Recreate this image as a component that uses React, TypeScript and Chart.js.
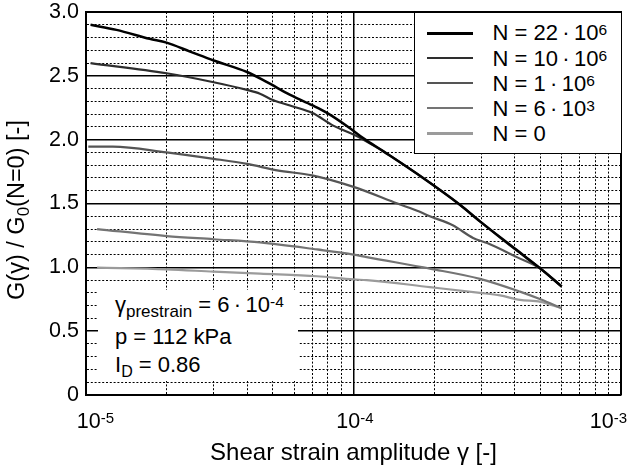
import React, { useEffect, useRef } from 'react';
import { Chart, registerables } from 'chart.js';

Chart.register(...registerables);

// ---------- data ----------
const N22M_X = [1.04e-5, 1.3e-5, 1.73e-5, 2e-5, 2.45e-5, 3e-5, 4e-5, 4.75e-5, 5.8e-5, 7e-5, 7.96e-5, 9.7e-5, 1.09e-4, 1.29e-4, 1.82e-4, 2.5e-4, 2.97e-4, 4.08e-4, 5e-4, 6e-4];
const N22M_Y = [2.90, 2.86, 2.79, 2.76, 2.69, 2.62, 2.53, 2.45, 2.35, 2.27, 2.21, 2.09, 2.01, 1.91, 1.70, 1.49, 1.36, 1.135, 0.99, 0.85];

const N10M_X = [1.04e-5, 2e-5, 3e-5, 4e-5, 4.47e-5, 5e-5, 5.94e-5, 7e-5, 8.4e-5, 1e-4, 1.09e-4, 1.29e-4, 1.82e-4, 2.5e-4, 2.97e-4, 4.08e-4, 5e-4, 6e-4];
const N10M_Y = [2.60, 2.52, 2.45, 2.39, 2.36, 2.31, 2.26, 2.21, 2.11, 2.04, 2.00, 1.91, 1.70, 1.49, 1.36, 1.13, 0.99, 0.85];

const N1M_X = [1.02e-5, 1.26e-5, 2e-5, 3e-5, 4e-5, 5.18e-5, 7e-5, 1e-4, 1.46e-4, 1.77e-4, 1.93e-4, 2.35e-4, 2.8e-4, 3.16e-4, 4.08e-4, 5e-4, 6e-4];
const N1M_Y = [1.945, 1.945, 1.90, 1.85, 1.81, 1.76, 1.72, 1.63, 1.50, 1.435, 1.40, 1.33, 1.23, 1.19, 1.08, 0.99, 0.85];

const N6K_X = [1.1e-5, 2e-5, 3e-5, 4.47e-5, 7.3e-5, 1e-4, 1.12e-4, 1.93e-4, 2.97e-4, 4.19e-4, 5e-4, 6e-4];
const N6K_Y = [1.30, 1.245, 1.22, 1.195, 1.14, 1.10, 1.08, 0.99, 0.91, 0.81, 0.75, 0.68];

const N0_X = [1.1e-5, 2e-5, 3e-5, 4.47e-5, 7.3e-5, 1e-4, 1.12e-4, 1.93e-4, 2.97e-4, 3.53e-4, 4.19e-4, 5e-4, 6e-4];
const N0_Y = [0.997, 0.984, 0.966, 0.95, 0.93, 0.905, 0.90, 0.845, 0.80, 0.78, 0.745, 0.73, 0.68];

const LEGEND_MANTISSA = ['22', '10', '1', '6', '0'];
const LEGEND_EXPONENT = ['6', '6', '6', '3', ''];

const X_MIN = 1e-5;
const X_MAX = 1e-3;
const X_DECADES = [1e-5, 1e-4, 1e-3];
const X_DECADE_EXPONENTS = ['-5', '-4', '-3'];
const Y_MIN = 0;
const Y_MAX = 3;
const Y_STEP = 0.1;
const X_TITLE = 'Shear strain amplitude \u03b3 [-]';

// ---------- styles ----------
const FONT = "'Liberation Sans', Arial, Helvetica, sans-serif";
const COLORS = ['#000000', '#2e2e2e', '#555555', '#747474', '#9b9b9b'];
const WIDTHS = [2.5, 2.2, 2.2, 2.2, 2.2];
const X_LABEL_NUDGE = [9.5, 1.5, -12.5];

const SERIES = [
  { xs: N22M_X, ys: N22M_Y },
  { xs: N10M_X, ys: N10M_Y },
  { xs: N1M_X, ys: N1M_Y },
  { xs: N6K_X, ys: N6K_Y },
  { xs: N0_X, ys: N0_Y },
];

function xGridTicks(): number[] {
  const t: number[] = [];
  for (let e = -5; e < -3; e++) {
    for (let m = 1; m < 10; m++) t.push(Number((m * Math.pow(10, e)).toPrecision(3)));
  }
  t.push(1e-3);
  return t;
}

const isDecade = (v: number) => {
  const l = Math.log10(v);
  return Math.abs(l - Math.round(l)) < 1e-6;
};
const isHalf = (v: number) => Math.abs(v * 2 - Math.round(v * 2)) < 1e-6;

const framePlugin = {
  id: 'frameAndText',
  afterDraw(chart: any) {
    const { ctx, chartArea: a, scales } = chart;
    const xs = scales.x;
    ctx.save();
    ctx.strokeStyle = '#000';
    ctx.lineWidth = 2;
    ctx.beginPath();
    ctx.moveTo(a.left, a.top);
    ctx.lineTo(a.right, a.top);
    ctx.lineTo(a.right, a.bottom);
    ctx.stroke();

    ctx.fillStyle = '#000';
    ctx.textBaseline = 'alphabetic';
    ctx.textAlign = 'left';
    X_DECADES.forEach((v, i) => {
      const px = xs.getPixelForValue(v) + X_LABEL_NUDGE[i];
      ctx.font = `21.5px ${FONT}`;
      const w1 = ctx.measureText('10').width;
      ctx.font = `15px ${FONT}`;
      const w2 = ctx.measureText(X_DECADE_EXPONENTS[i]).width;
      const x0 = px - (w1 + w2) / 2;
      const base = a.bottom + 33;
      ctx.font = `21.5px ${FONT}`;
      ctx.fillText('10', x0, base);
      ctx.font = `15px ${FONT}`;
      ctx.fillText(X_DECADE_EXPONENTS[i], x0 + w1, base - 5);
    });

    ctx.font = `24px ${FONT}`;
    ctx.textAlign = 'center';
    ctx.fillText(X_TITLE, (a.left + a.right) / 2, a.bottom + 65);

    // y title with subscript
    const parts: [string, number, number][] = [
      ['G(\u03b3) / G', 23.5, 0],
      ['0', 17, 5],
      ['(N=0) [-]', 23.5, 0],
    ];
    let total = 0;
    const widths = parts.map(([t, s]) => {
      ctx.font = `${s}px ${FONT}`;
      const w = ctx.measureText(t).width;
      total += w;
      return w;
    });
    ctx.translate(23.5, (a.top + a.bottom) / 2 + 6.5);
    ctx.rotate(-Math.PI / 2);
    ctx.textAlign = 'left';
    let cx = -total / 2;
    parts.forEach(([t, s, dy], i) => {
      ctx.font = `${s}px ${FONT}`;
      ctx.fillText(t, cx, dy);
      cx += widths[i];
    });
    ctx.restore();
  },
};

export default function App() {
  const ref = useRef<HTMLCanvasElement | null>(null);

  useEffect(() => {
    if (!ref.current) return;
    const gridTicks = xGridTicks();
    const chart = new Chart(ref.current, {
      type: 'line',
      data: {
        datasets: SERIES.map((s, i) => ({
          label: `N = ${LEGEND_MANTISSA[i]}`,
          data: s.xs.map((x, j) => ({ x, y: s.ys[j] })),
          borderColor: COLORS[i],
          backgroundColor: COLORS[i],
          borderWidth: WIDTHS[i],
          pointRadius: 0,
          fill: false,
          cubicInterpolationMode: 'monotone',
        })),
      },
      options: {
        animation: false,
        responsive: true,
        maintainAspectRatio: false,
        layout: { padding: { top: 12, right: 11, left: 0, bottom: 0 } },
        plugins: { legend: { display: false }, tooltip: { enabled: false } },
        scales: {
          x: {
            type: 'logarithmic',
            min: X_MIN,
            max: X_MAX,
            afterBuildTicks: (s: any) => {
              s.ticks = gridTicks.map((v) => ({ value: v }));
            },
            afterFit: (s: any) => {
              s.height = 73;
              s.paddingLeft = 0;
              s.paddingRight = 0;
              s.paddingTop = 0;
              s.paddingBottom = 0;
            },
            ticks: { display: false, autoSkip: false },
            grid: {
              drawTicks: false,
              color: '#000',
              lineWidth: (c: any) => (c.tick && isDecade(c.tick.value) ? 1.5 : 1),
            },
            border: {
              display: true,
              color: '#000',
              width: 2,
              dash: (c: any) => (c.tick && !isDecade(c.tick.value) ? [2, 1.8] : []),
            },
          },
          y: {
            type: 'linear',
            min: Y_MIN,
            max: Y_MAX,
            afterFit: (s: any) => {
              s.width = 86;
              s.paddingLeft = 0;
              s.paddingRight = 0;
              s.paddingTop = 0;
              s.paddingBottom = 0;
            },
            ticks: {
              stepSize: Y_STEP,
              autoSkip: false,
              padding: 7,
              color: '#000',
              font: { family: FONT, size: 21.5 },
              callback: (v: any) => {
                const r = Math.round(Number(v) * 10);
                if (r % 5 !== 0) return '';
                return r === 0 ? '0' : (r / 10).toFixed(1);
              },
            },
            grid: {
              drawTicks: false,
              color: '#000',
              lineWidth: (c: any) => (c.tick && isHalf(c.tick.value) ? 1.5 : 1),
            },
            border: {
              display: true,
              color: '#000',
              width: 2,
              dash: (c: any) => (c.tick && !isHalf(c.tick.value) ? [2, 1.8] : []),
            },
          },
        },
      },
      plugins: [framePlugin],
    } as any);
    return () => chart.destroy();
  }, []);

  const sup = (t: string) => (
    <span style={{ fontSize: 15.5, position: 'relative', top: -5 }}>{t}</span>
  );
  const sub = (t: string, size = 17) => (
    <span style={{ fontSize: size, position: 'relative', top: 5 }}>{t}</span>
  );

  return (
    <div style={{ position: 'absolute', left: 0, top: 0, width: 632, height: 468, background: '#fff' }}>
      <canvas ref={ref} />
      <div
        style={{
          position: 'absolute',
          left: 414,
          top: 12,
          width: 208,
          height: 142,
          boxSizing: 'border-box',
          border: '1.5px solid #000',
          background: '#fff',
          fontFamily: FONT,
          fontSize: 22,
          color: '#000',
        }}
      >
        {LEGEND_MANTISSA.map((m, i) => (
          <React.Fragment key={i}>
            <div
              style={{
                position: 'absolute',
                left: 11.5,
                top: 19 + 25.1 * i,
                width: 46,
                height: WIDTHS[i],
                background: COLORS[i],
              }}
            />
            <div
              style={{
                position: 'absolute',
                left: 77.5,
                top: 8.4 + 25.1 * i,
                lineHeight: '24px',
                whiteSpace: 'nowrap',
              }}
            >
              {LEGEND_EXPONENT[i] ? (
                <>
                  {`N = ${m}\u2009\u00b7\u200910`}
                  {sup(LEGEND_EXPONENT[i])}
                </>
              ) : (
                `N = ${m}`
              )}
            </div>
          </React.Fragment>
        ))}
      </div>
      <div
        style={{
          position: 'absolute',
          left: 98,
          top: 290,
          width: 200,
          height: 91,
          background: '#fff',
          fontFamily: FONT,
          fontSize: 22,
          color: '#000',
        }}
      >
        <div style={{ position: 'absolute', left: 17, top: 3.2, lineHeight: '24px', whiteSpace: 'nowrap' }}>
          {'\u03b3'}
          {sub('prestrain')}
          {' = 6\u2009\u00b7\u200910'}
          {sup('-4')}
        </div>
        <div style={{ position: 'absolute', left: 17, top: 35.2, lineHeight: '24px', whiteSpace: 'nowrap' }}>
          p = 112 kPa
        </div>
        <div style={{ position: 'absolute', left: 17, top: 63.2, lineHeight: '24px', whiteSpace: 'nowrap' }}>
          I{sub('D', 16)} = 0.86
        </div>
      </div>
    </div>
  );
}
